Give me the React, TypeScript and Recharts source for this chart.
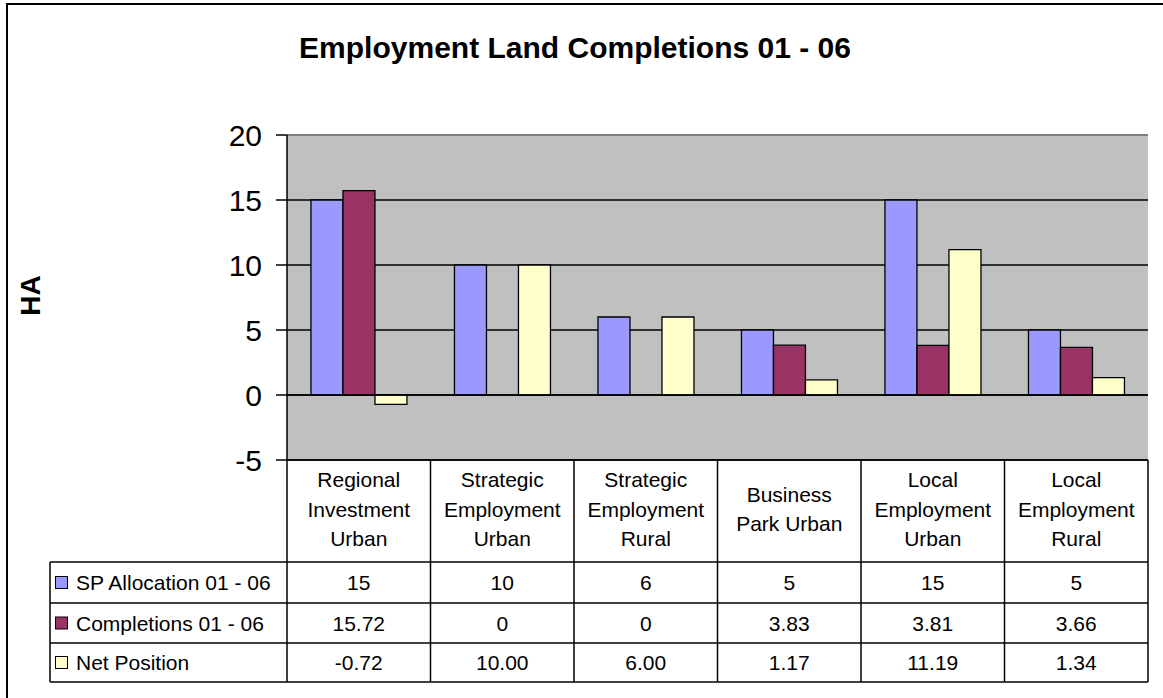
import { Bar, BarChart, CartesianGrid, ReferenceLine, XAxis, YAxis } from "recharts"

const categories = [
  "Regional Investment Urban",
  "Strategic Employment Urban",
  "Strategic Employment Rural",
  "Business Park Urban",
  "Local Employment Urban",
  "Local Employment Rural",
]
// how the category names wrap in the table header
const categoryLines = [
  ["Regional", "Investment", "Urban"],
  ["Strategic", "Employment", "Urban"],
  ["Strategic", "Employment", "Rural"],
  ["Business", "Park Urban"],
  ["Local", "Employment", "Urban"],
  ["Local", "Employment", "Rural"],
]
const spAllocation = [15, 10, 6, 5, 15, 5]
const completions = [15.72, 0, 0, 3.83, 3.81, 3.66]
const netPosition = [-0.72, 10, 6, 1.17, 11.19, 1.34]
const spLabels = ["15", "10", "6", "5", "15", "5"]
const completionLabels = ["15.72", "0", "0", "3.83", "3.81", "3.66"]
const netLabels = ["-0.72", "10.00", "6.00", "1.17", "11.19", "1.34"]
const yTicks = [-5, 0, 5, 10, 15, 20]

const series = [
  { key: "sp", name: "SP Allocation 01 - 06", color: "#9999FF", labels: spLabels },
  { key: "comp", name: "Completions 01 - 06", color: "#993366", labels: completionLabels },
  { key: "net", name: "Net Position", color: "#FFFFCC", labels: netLabels },
]

const data = categories.map((name, i) => ({
  name,
  sp: spAllocation[i],
  comp: completions[i],
  net: netPosition[i],
}))

const FONT = "'Liberation Sans', Arial, sans-serif"
const W = 1163
const H = 698
const PLOT_LEFT = 287
const PLOT_RIGHT = 1148
const PLOT_TOP = 135
const TABLE_TOP = 460
const COL_W = (PLOT_RIGHT - PLOT_LEFT) / categories.length
const TABLE_LEFT = 50
// bottoms of header row and the three data rows
const rowBottoms = [562, 603, 643, 682]

const TableColumn = (props: any) => {
  const { x, payload } = props
  const i = payload.index
  const half = COL_W / 2
  const lines = categoryLines[i]
  const headerMid = (TABLE_TOP + rowBottoms[0]) / 2 - 2
  const firstLine = headerMid - ((lines.length - 1) * 29.5) / 2
  const left = x - half
  const right = x + half
  return (
    <g fontFamily={FONT} fontSize={21} fill="#000">
      <line x1={left} y1={TABLE_TOP} x2={left} y2={rowBottoms[3]} stroke="#000" strokeWidth={1.5} />
      {i === categories.length - 1 && (
        <line x1={right} y1={TABLE_TOP} x2={right} y2={rowBottoms[3]} stroke="#000" strokeWidth={1.5} />
      )}
      {lines.map((t, k) => (
        <text key={k} x={x} y={firstLine + k * 29.5} textAnchor="middle" dominantBaseline="central">
          {t}
        </text>
      ))}
      {series.map((s, r) => {
        const top = rowBottoms[r]
        const bottom = rowBottoms[r + 1]
        return (
          <text key={s.key} x={x} y={(top + bottom) / 2} textAnchor="middle" dominantBaseline="central">
            {s.labels[i]}
          </text>
        )
      })}
      {rowBottoms.map((yy, k) => (
        <line key={k} x1={left} y1={yy} x2={right} y2={yy} stroke="#000" strokeWidth={1.5} />
      ))}
      {i === 0 && (
        <g>
          <line x1={TABLE_LEFT} y1={rowBottoms[0]} x2={TABLE_LEFT} y2={rowBottoms[3]} stroke="#000" strokeWidth={1.5} />
          {rowBottoms.map((yy, k) => (
            <line key={k} x1={TABLE_LEFT} y1={yy} x2={left} y2={yy} stroke="#000" strokeWidth={1.5} />
          ))}
          {series.map((s, r) => {
            const mid = (rowBottoms[r] + rowBottoms[r + 1]) / 2
            return (
              <g key={s.key}>
                <rect x={TABLE_LEFT + 5.5} y={mid - 6} width={12} height={12} fill={s.color} stroke="#000" strokeWidth={1} />
                <text x={TABLE_LEFT + 26} y={mid} dominantBaseline="central">
                  {s.name}
                </text>
              </g>
            )
          })}
        </g>
      )}
    </g>
  )
}

const AxisTitle = () => (
  <text
    x={30}
    y={(PLOT_TOP + TABLE_TOP) / 2 - 2}
    transform={`rotate(-90 30 ${(PLOT_TOP + TABLE_TOP) / 2 - 2})`}
    textAnchor="middle"
    dominantBaseline="central"
    fontFamily={FONT}
    fontSize={28}
    fontWeight="bold"
    fill="#000"
  >
    HA
  </text>
)

export default function App() {
  return (
    <div style={{ position: "absolute", left: 0, top: 0, width: W, height: H, overflow: "hidden", background: "#fff" }}>
      <div
        style={{
          position: "absolute",
          left: 6,
          top: 3,
          width: 1200,
          height: 800,
          border: "2px solid #000",
        }}
      />
      <div
        style={{
          position: "absolute",
          left: 0,
          top: 29,
          width: 1150,
          textAlign: "center",
          fontFamily: FONT,
          fontWeight: "bold",
          fontSize: 30,
          lineHeight: "38px",
        }}
      >
        Employment Land Completions 01 - 06
      </div>
      <div style={{ position: "absolute", left: 0, top: 0 }}>
        <BarChart
          width={W}
          height={H}
          data={data}
          margin={{ top: PLOT_TOP, right: W - PLOT_RIGHT, bottom: 18, left: 8 }}
          barCategoryGap="16.7%"
          barGap={0}
        >
          <CartesianGrid yAxisId="left" vertical={false} stroke="#000" strokeWidth={1.5} fill="#C0C0C0" fillOpacity={1} />
          <XAxis
            dataKey="name"
            height={H - TABLE_TOP - 18}
            axisLine={{ stroke: "#000", strokeWidth: 1.5 }}
            tickLine={false}
            interval={0}
            tick={<TableColumn />}
          />
          <YAxis
            yAxisId="left"
            width={PLOT_LEFT - 8}
            domain={[-5, 20]}
            ticks={yTicks}
            interval={0}
            tickSize={11}
            tickMargin={14}
            axisLine={{ stroke: "#000", strokeWidth: 1.5 }}
            tickLine={{ stroke: "#000", strokeWidth: 1.5 }}
            tick={{ fontSize: 30, fill: "#000", fontFamily: FONT }}
            label={<AxisTitle />}
          />
          <YAxis
            yAxisId="right"
            orientation="right"
            width={0}
            tick={false}
            tickLine={false}
            axisLine={{ stroke: "#808080", strokeWidth: 1.5 }}
          />
          <ReferenceLine yAxisId="left" y={20} stroke="#808080" strokeWidth={2} />
          <ReferenceLine yAxisId="left" y={0} stroke="#000" strokeWidth={1.5} />
          {series.map((s) => (
            <Bar
              key={s.key}
              yAxisId="left"
              dataKey={s.key}
              name={s.name}
              fill={s.color}
              stroke="#000"
              strokeWidth={1.3}
              isAnimationActive={false}
            />
          ))}
        </BarChart>
      </div>
    </div>
  )
}
